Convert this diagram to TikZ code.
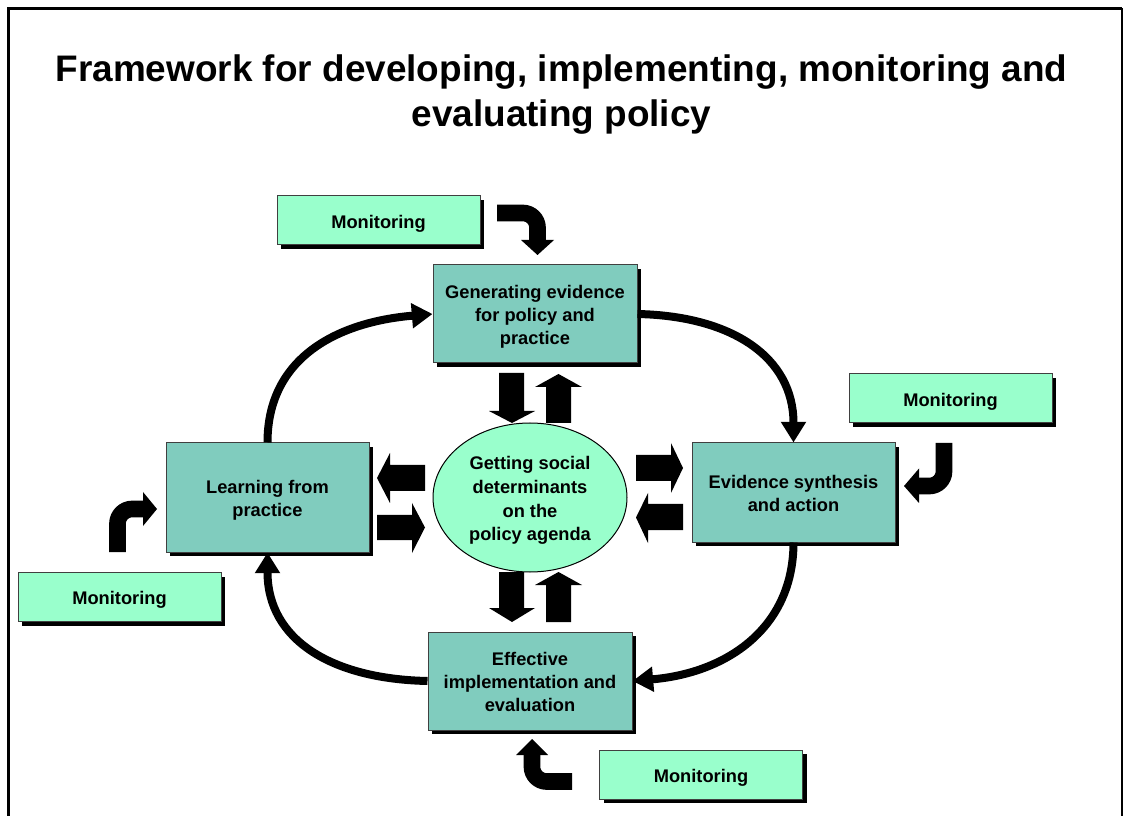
\documentclass[tikz,border=0pt]{standalone}
\usepackage{fontspec}
\setmainfont{Liberation Sans}
\usetikzlibrary{shadows,arrows.meta,shapes.geometric}
\definecolor{boxteal}{RGB}{128,204,190}
\definecolor{mint}{RGB}{153,255,204}
\newcommand\lowtext[1]{\raisebox{-2.3pt}[\height][\depth]{\begin{tabular}{@{}c@{}}#1\end{tabular}}}
\begin{document}
\begin{tikzpicture}[x=0.75pt,y=-0.75pt,
  shade/.style={drop shadow={opacity=1,fill=black,shadow xshift=3pt,shadow yshift=-3pt}},
  txt/.style={font=\bfseries\fontsize{13.7pt}{17.3pt}\selectfont,align=center},
  stagebox/.style={txt,shade,draw=black!75,line width=0.75pt,fill=boxteal,inner sep=0pt},
  monbox/.style={txt,shade,draw=black!75,line width=0.75pt,fill=mint,inner sep=0pt,
     minimum width=152.25pt,minimum height=36.75pt},
  curve/.style={line width=6pt,-{Triangle[length=15.5pt,width=18pt]}},
  bent/.style={line width=12.5pt,rounded corners=11pt},
  blockar/.style={fill=black}]
\useasboundingbox (0,0) rectangle (1125,816);
% frame
\draw[line width=2.5pt] (8.5,816) -- (8.5,8.5) -- (1122,8.5);
\draw[line width=0.9pt] (1122,8.5) -- (1122,816);
% title
\node[font=\bfseries\fontsize{27.7pt}{33.8pt}\selectfont,align=center] (title) at (561.5,94.5)
  {Framework for developing, implementing, monitoring and\\evaluating policy};
% stage boxes
\node[stagebox,minimum width=153pt,minimum height=73.5pt] (gen) at (535,314)
  {\lowtext{Generating evidence\\for policy and\\practice}};
\node[stagebox,minimum width=152.25pt,minimum height=74.25pt] (evid) at (793.5,492.5)
  {\lowtext{Evidence synthesis\\and action}};
\node[stagebox,minimum width=152.25pt,minimum height=81.75pt] (learn) at (267.5,497.5)
  {\lowtext{Learning from\\practice}};
\node[stagebox,minimum width=153pt,minimum height=73.5pt] (eff) at (530,681)
  {\lowtext{Effective\\implementation and\\evaluation}};
\node[ellipse,draw=black,line width=0.75pt,fill=mint,minimum width=145.5pt,minimum height=111.75pt,
  inner sep=0pt,font=\bfseries\fontsize{13.7pt}{17.8pt}\selectfont,align=center] (core) at (530,497.5)
  {\lowtext{Getting social\\determinants\\on the\\policy agenda}};
% monitoring boxes
\node[monbox] (monT) at (378.5,220.5) {\lowtext{Monitoring}};
\node[monbox] (monR) at (950.5,398.5) {\lowtext{Monitoring}};
\node[monbox] (monL) at (119.5,597) {\lowtext{Monitoring}};
\node[monbox] (monB) at (701,774.5) {\lowtext{Monitoring}};
% cycle arrows
\draw[curve] (learn.north) .. controls +(0,-85) and +(-95,8) .. (gen.west);
\draw[curve] (gen.east) .. controls +(95,2) and +(0,-85) .. (evid.north);
\draw[curve] (evid.south) .. controls +(0,85) and +(95,-8) .. (eff.east);
\draw[curve] (eff.west) .. controls +(-95,-2) and +(0,88) .. (learn.south);
% block arrows top
\fill[blockar] (499,373) -- (524,373) -- (524,411) -- (535,411) -- (512,423) -- (489,411) -- (499,411) -- cycle;
\fill[blockar] (546,423) -- (571,423) -- (571,387) -- (582,387) -- (558.5,374) -- (535,387) -- (546,387) -- cycle;
% block arrows bottom
\fill[blockar] (499,572) -- (524,572) -- (524,608) -- (535,608) -- (512,622) -- (489,608) -- (499,608) -- cycle;
\fill[blockar] (546,622) -- (571,622) -- (571,585) -- (582,585) -- (558.5,572) -- (535,585) -- (546,585) -- cycle;
% block arrows left
\fill[blockar] (425,465) -- (425,491) -- (390,491) -- (390,503) -- (377,478) -- (390,453) -- (390,465) -- cycle;
\fill[blockar] (377,515) -- (377,540) -- (412,540) -- (412,553) -- (425,527.5) -- (412,503) -- (412,515) -- cycle;
% block arrows right
\fill[blockar] (636,455) -- (636,481) -- (671,481) -- (671,493) -- (683,468) -- (671,443) -- (671,455) -- cycle;
\fill[blockar] (683,504) -- (683,530) -- (648,530) -- (648,543) -- (636,517.5) -- (648,493) -- (648,504) -- cycle;
% monitoring bent arrows
\draw[bent] (497,213) -| (537.5,241);
\fill (521,240) -- (554,240) -- (537.5,255) -- cycle;
\draw[bent] (944,443) |- (919,486);
\fill (919,468.5) -- (919,503) -- (904,486) -- cycle;
\draw[bent] (117.5,552) |- (144,509);
\fill (143,492) -- (143,526) -- (157,509) -- cycle;
\draw[bent] (572,781.5) -| (532,754);
\fill (516,755) -- (548,755) -- (532,739) -- cycle;
\end{tikzpicture}
\end{document}
